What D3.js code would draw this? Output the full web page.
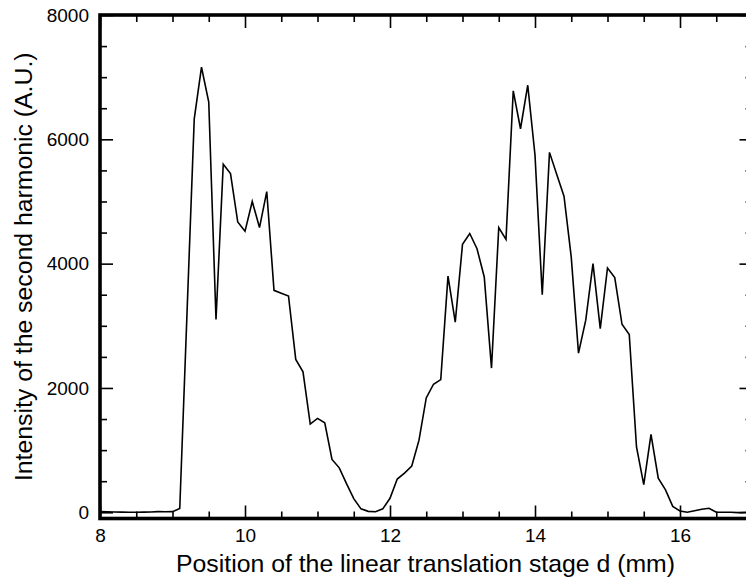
<!DOCTYPE html>
<html>
<head>
<meta charset="utf-8">
<script src="https://cdn.jsdelivr.net/npm/d3@7"></script>
<style>
    html, body { margin: 0; padding: 0; background: #fff; }
    svg { display: block; font-family: "Liberation Sans", Arial, Helvetica, sans-serif; }
</style>
</head>
<body>
<div id="chart-container"></div>
<script>
// stage position (mm)
const positionMm = [
    8.0, 8.1, 8.2, 8.3, 8.4, 8.5, 8.6, 8.7, 8.8, 8.9,
    9.0, 9.1, 9.2, 9.3, 9.4, 9.5, 9.6, 9.7, 9.8, 9.9,
    10.0, 10.1, 10.2, 10.3, 10.4, 10.5, 10.6, 10.7, 10.8, 10.9,
    11.0, 11.1, 11.2, 11.3, 11.4, 11.5, 11.6, 11.7, 11.8, 11.9,
    12.0, 12.1, 12.2, 12.3, 12.4, 12.5, 12.6, 12.7, 12.8, 12.9,
    13.0, 13.1, 13.2, 13.3, 13.4, 13.5, 13.6, 13.7, 13.8, 13.9,
    14.0, 14.1, 14.2, 14.3, 14.4, 14.5, 14.6, 14.7, 14.8, 14.9,
    15.0, 15.1, 15.2, 15.3, 15.4, 15.5, 15.6, 15.7, 15.8, 15.9,
    16.0, 16.1, 16.2, 16.3, 16.4, 16.5, 16.6, 16.7, 16.8, 16.9,
    17.0
];

// second harmonic intensity (A.U.)
const intensity = [
    10, 8, 5, 3, 0, 0, 2, 5, 10, 8,
    10, 60, 3200, 6330, 7160, 6600, 3100, 5600, 5450, 4670,
    4520, 5000, 4580, 5160, 3570, 3525, 3480, 2460, 2260, 1420,
    1510, 1440, 850, 715, 460, 220, 55, 15, 8, 55,
    225, 535, 630, 745, 1160, 1840, 2060, 2135, 3800, 3060,
    4310, 4485, 4240, 3785, 2320, 4580, 4390, 6780, 6170, 6870,
    5745, 3500, 5790, 5435, 5085, 4105, 2560, 3090, 4000, 2955,
    3930, 3775, 3025, 2860, 1050, 445, 1255, 550, 360, 95,
    20, 0, 25, 50, 65, 0, 0, 0, -5, 0,
    0
];

const xMajorTicks = [8, 10, 12, 14, 16];
const xMinorTicks = [8.5, 9, 9.5, 10.5, 11, 11.5, 12.5, 13, 13.5, 14.5, 15, 15.5, 16.5];
const yMajorTicks = [0, 2000, 4000, 6000, 8000];
const yMinorTicks = [500, 1000, 1500, 2500, 3000, 3500, 4500, 5000, 5500, 6500, 7000, 7500];

const xTitle = "Position of the linear translation stage d (mm)";
const yTitle = "Intensity of the second harmonic (A.U.)";

const chart = () => {
    const width = 746;
    const height = 579;
    const left = 100, right = 752.5, top = 15, bottom = 518.5;

    const x = d3.scaleLinear().domain([8, 17]).range([left, right]);
    const y = d3.scaleLinear().domain([-100, 8000]).range([bottom, top]);

    const svg = d3.create("svg")
        .attr("width", width)
        .attr("height", height)
        .attr("viewBox", [0, 0, width, height]);

    const data = positionMm.map((p, i) => ({p: p, v: intensity[i]}));

    // the curve
    svg.append("path")
        .datum(data)
        .attr("fill", "none")
        .attr("stroke", "#000")
        .attr("stroke-width", 1.6)
        .attr("stroke-linejoin", "miter")
        .attr("d", d3.line().x(d => x(d.p)).y(d => y(d.v)));

    const styleAxis = g => {
        g.select(".domain").remove();
        g.selectAll(".tick line").attr("stroke", "#000").attr("stroke-width", 1.6);
        g.selectAll("text").attr("fill", "#000").style("font-size", "19px");
    };

    // bottom
    svg.append("g")
        .attr("transform", `translate(0,${bottom})`)
        .call(d3.axisBottom(x).tickValues(xMajorTicks).tickSize(-13).tickPadding(10).tickFormat(d3.format("d")))
        .call(styleAxis);
    svg.append("g")
        .attr("transform", `translate(0,${bottom})`)
        .call(d3.axisBottom(x).tickValues(xMinorTicks).tickSize(-7).tickFormat(""))
        .call(styleAxis);

    // top
    svg.append("g")
        .attr("transform", `translate(0,${top})`)
        .call(d3.axisTop(x).tickValues(xMajorTicks).tickSize(-13).tickFormat(""))
        .call(styleAxis);
    svg.append("g")
        .attr("transform", `translate(0,${top})`)
        .call(d3.axisTop(x).tickValues(xMinorTicks).tickSize(-7).tickFormat(""))
        .call(styleAxis);

    // left
    svg.append("g")
        .attr("transform", `translate(${left},0)`)
        .call(d3.axisLeft(y).tickValues(yMajorTicks).tickSize(-13).tickPadding(11).tickFormat(d3.format("d")))
        .call(styleAxis);
    svg.append("g")
        .attr("transform", `translate(${left},0)`)
        .call(d3.axisLeft(y).tickValues(yMinorTicks).tickSize(-7).tickFormat(""))
        .call(styleAxis);

    // right (mostly outside the window)
    svg.append("g")
        .attr("transform", `translate(${right},0)`)
        .call(d3.axisRight(y).tickValues(yMajorTicks).tickSize(-13).tickFormat(""))
        .call(styleAxis);
    svg.append("g")
        .attr("transform", `translate(${right},0)`)
        .call(d3.axisRight(y).tickValues(yMinorTicks).tickSize(-7).tickFormat(""))
        .call(styleAxis);

    // frame
    svg.append("rect")
        .attr("x", left)
        .attr("y", top)
        .attr("width", right - left)
        .attr("height", bottom - top)
        .attr("fill", "none")
        .attr("stroke", "#000")
        .attr("stroke-width", 3.6);

    svg.append("text")
        .attr("x", 425.5)
        .attr("y", 572)
        .attr("text-anchor", "middle")
        .style("font-size", "24.8px")
        .text(xTitle);

    svg.append("text")
        .attr("transform", `translate(32,${(top + bottom) / 2}) rotate(-90)`)
        .attr("text-anchor", "middle")
        .style("font-size", "24.8px")
        .text(yTitle);

    return svg.node();
};

d3.select("#chart-container").node().appendChild(chart());
</script>
</body>
</html>
